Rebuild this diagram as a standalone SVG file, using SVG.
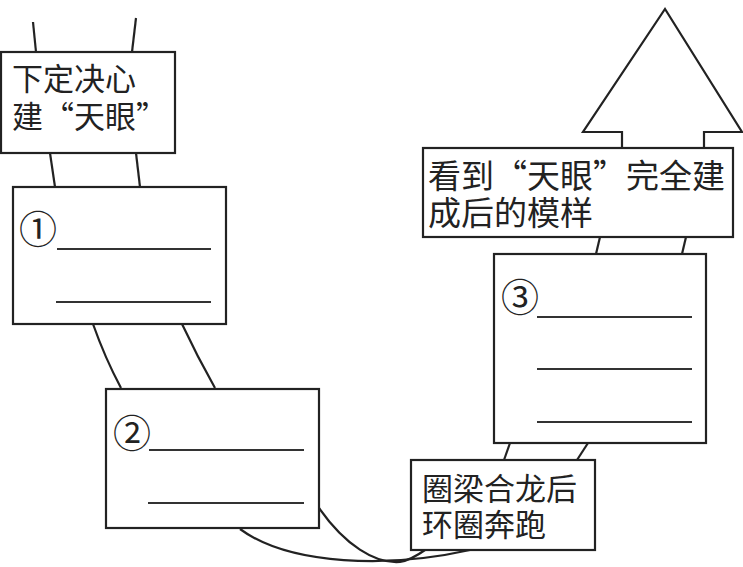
<svg xmlns="http://www.w3.org/2000/svg" width="743" height="567" viewBox="0 0 743 567">
<style>
.box{fill:#fff;stroke:#222;stroke-width:2.2}
.ln{fill:none;stroke:#222;stroke-width:2.2}
.blank{stroke:#333;stroke-width:1.8}
.t{font-family:"Noto Sans CJK SC","Noto Sans CJK JP",sans-serif;font-size:31px;fill:#222}
.num{font-family:"Noto Sans CJK SC",sans-serif;font-size:38px;fill:#222;text-anchor:middle}
</style>
<rect width="743" height="567" fill="#fff"/>
<g id="connectors">
<line class="ln" x1="33" y1="22" x2="36" y2="52"/>
<line class="ln" x1="136" y1="18" x2="132" y2="52"/>
<line class="ln" x1="50" y1="153" x2="55" y2="187"/>
<line class="ln" x1="136" y1="153" x2="140" y2="187"/>
<path class="ln" d="M93,324 Q105,358 121,388"/>
<path class="ln" d="M182,324 Q197,356 215,388"/>
<path class="ln" d="M240,529 C290,566 390,568 470,550"/>
<path class="ln" d="M319,508 C345,545 375,564 400,562 C410,560 418,555 425,550"/>
<line class="ln" x1="510" y1="443" x2="504" y2="460"/>
<line class="ln" x1="588" y1="443" x2="577" y2="460"/>
<line class="ln" x1="596" y1="254" x2="600" y2="237"/>
<line class="ln" x1="682" y1="254" x2="686" y2="237"/>
<polyline class="ln" points="622,148 622,132 583,132 665,9 742,132 704,132 704,148"/>
</g>
<g id="start">
<rect class="box" x="1" y="52" width="174" height="101"/>
<text class="t"><tspan x="12" y="90">下定决心</tspan><tspan x="12" y="128">建“天眼”</tspan></text>
</g>
<g id="step1">
<rect class="box" x="13" y="187" width="213" height="137"/>
<text class="num" x="38" y="243">①</text>
<line class="blank" x1="57" y1="249" x2="211" y2="249"/>
<line class="blank" x1="56" y1="302" x2="211" y2="302"/>
</g>
<g id="step2">
<rect class="box" x="106" y="389" width="213" height="139"/>
<text class="num" x="132" y="447">②</text>
<line class="blank" x1="149" y1="450" x2="304" y2="450"/>
<line class="blank" x1="148" y1="503" x2="304" y2="503"/>
</g>
<g id="ring">
<rect class="box" x="411" y="460" width="184" height="90"/>
<text class="t"><tspan x="422" y="500">圈梁合龙后</tspan><tspan x="422" y="536">环圈奔跑</tspan></text>
</g>
<g id="step3">
<rect class="box" x="494" y="254" width="212" height="189"/>
<text class="num" x="520" y="311">③</text>
<line class="blank" x1="537" y1="317" x2="692" y2="317"/>
<line class="blank" x1="537" y1="369" x2="692" y2="369"/>
<line class="blank" x1="537" y1="422" x2="692" y2="422"/>
</g>
<g id="finish">
<rect class="box" x="423" y="148" width="310" height="89"/>
<text class="t" style="font-size:33px"><tspan x="428" y="188">看到“天眼”完全建</tspan><tspan x="428" y="225">成后的模样</tspan></text>
</g>
</svg>
